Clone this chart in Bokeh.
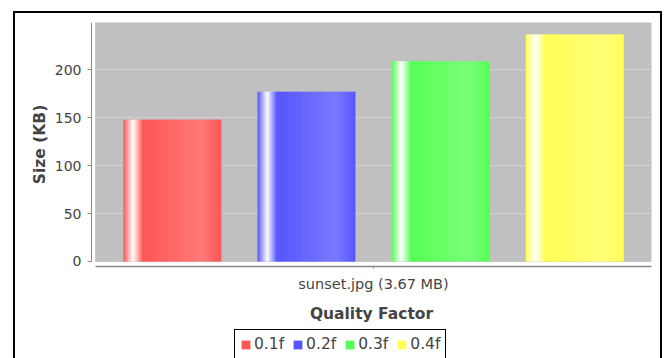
from bokeh.plotting import figure
from bokeh.layouts import column
from bokeh.models import (Range1d, FixedTicker, BoxAnnotation, Legend, LegendItem,
                          ColumnDataSource)
from bokeh.embed import file_html
from bokeh.resources import INLINE

# --- data ---------------------------------------------------------------
categories = ["sunset.jpg (3.67 MB)"]
series = ["0.1f", "0.2f", "0.3f", "0.4f"]
sizes_kb = [148, 177, 209, 237]
series_colors = [(255, 85, 85), (85, 85, 255), (85, 255, 85), (255, 255, 85)]
y_ticks = [0, 50, 100, 150, 200]

# --- layout constants ---------------------------------------------------
# the chart sits inside a black frame whose lower edge runs below the page
OFF_X, OFF_Y, BORDER = 13, 11, 2
X0, Y0 = OFF_X + 2 * BORDER, OFF_Y + 2 * BORDER   # origin of the canvas
W = 660 - OFF_X - BORDER
H_CHART = 326 - OFF_Y - BORDER
H_LEGEND = 358 - 326
FRAME_L, FRAME_R, FRAME_T, FRAME_B = 93, 649, 24, 266
Y_MAX = 249.4
FONT = "DejaVu Sans"
TEXT = "#444444"
AXIS = "#888888"
SIDE = "2px solid black"

p = figure(width=W, height=H_CHART, output_backend="svg", toolbar_location=None,
           x_range=Range1d(-0.00725, 1.0), y_range=Range1d(-5.26, Y_MAX),
           min_border_left=FRAME_L - X0,
           min_border_right=W - (FRAME_R - X0),
           min_border_top=FRAME_T - Y0,
           min_border_bottom=H_CHART - (FRAME_B - Y0),
           margin=(OFF_Y, 0, 0, OFF_X),
           styles={"border-top": SIDE, "border-left": SIDE,
                   "border-right": SIDE, "box-sizing": "content-box"})
p.background_fill_color = "white"
p.border_fill_color = "white"
p.outline_line_color = None

# grey plot area, slightly detached from the axes
p.add_layout(BoxAnnotation(left=0, right=1, bottom=0, top=Y_MAX,
                           fill_color="#C0C0C0", fill_alpha=1.0,
                           line_color="#8a8a8a", line_width=1, level="image"))


def hex_of(c):
    return "#%02x%02x%02x" % tuple(int(round(v)) for v in c)


def brighter(c):
    return tuple(min(int(v / 0.7), 255) for v in c)


def mix(a, b, t):
    return tuple(a[k] + (b[k] - a[k]) * t for k in range(3))


def bar_shade(c0, t):
    """Horizontal gradient across a bar: highlight stripe near the left edge."""
    white = (255, 255, 255)
    c1 = brighter(c0)
    if t < 0.10:
        return mix(c0, white, t / 0.10)
    if t < 0.20:
        return mix(white, c0, (t - 0.10) / 0.10)
    if t < 0.80:
        return mix(c0, c1, (t - 0.20) / 0.60)
    return mix(c1, c0, (t - 0.80) / 0.20)


# bar geometry inside the single category slot [0, 1]
margin = 0.05
gap = 0.065
n = len(series)
bw = (1 - 2 * margin - (n - 1) * gap) / n
N_STRIPS = 90

for i, (name, val, col) in enumerate(zip(series, sizes_kb, series_colors)):
    left = margin + i * (bw + gap)
    step = bw / N_STRIPS
    lefts, rights, tops, bottoms, colors = [], [], [], [], []
    for j in range(N_STRIPS):
        t = (j + 0.5) / N_STRIPS
        lefts.append(left + j * step)
        rights.append(min(left + (j + 1.6) * step, left + bw))
        tops.append(val)
        bottoms.append(0)
        colors.append(hex_of(bar_shade(col, t)))
    src = ColumnDataSource(dict(left=lefts, right=rights, top=tops,
                                bottom=bottoms, color=colors))
    p.quad(left="left", right="right", top="top", bottom="bottom",
           fill_color="color", line_color=None, source=src)

# grid
p.xgrid.visible = False
p.ygrid.ticker = FixedTicker(ticks=y_ticks[1:])
p.ygrid.grid_line_color = "#e4e4e4"
p.ygrid.grid_line_dash = "2 2"
p.ygrid.grid_line_width = 1

# y axis
ya = p.yaxis[0]
ya.ticker = FixedTicker(ticks=y_ticks)
ya.bounds = (0, Y_MAX)
ya.axis_line_color = AXIS
ya.major_tick_line_color = AXIS
ya.major_tick_in = 0
ya.major_tick_out = 4
ya.minor_tick_line_color = None
ya.major_label_text_font = FONT
ya.major_label_text_font_size = "14px"
ya.major_label_text_color = TEXT
ya.major_label_standoff = 6
ya.axis_label = "Size (KB)"
ya.axis_label_text_font = FONT
ya.axis_label_text_font_style = "bold"
ya.axis_label_text_font_size = "15.5px"
ya.axis_label_text_color = TEXT
ya.axis_label_standoff = 3

# x axis
xa = p.xaxis[0]
xa.ticker = FixedTicker(ticks=[0.5])
xa.major_label_overrides = {0.5: categories[0]}
xa.bounds = (0, 1)
xa.axis_line_color = AXIS
xa.axis_line_width = 1.5
xa.major_tick_line_color = AXIS
xa.major_tick_in = 0
xa.major_tick_out = 2
xa.minor_tick_line_color = None
xa.major_label_text_font = FONT
xa.major_label_text_font_size = "14.5px"
xa.major_label_text_color = TEXT
xa.major_label_standoff = 7
xa.axis_label = "Quality Factor"
xa.axis_label_text_font = FONT
xa.axis_label_text_font_style = "bold"
xa.axis_label_text_font_size = "15.5px"
xa.axis_label_text_color = TEXT
xa.axis_label_standoff = 10

# --- legend strip under the chart -------------------------------------
lg = figure(width=W, height=H_LEGEND, output_backend="svg",
            toolbar_location=None, x_axis_location=None, y_axis_location=None,
            x_range=Range1d(0, 1), y_range=Range1d(0, 1),
            min_border_left=0, min_border_right=0, min_border_top=0,
            min_border_bottom=0, margin=(0, 0, 0, OFF_X),
            styles={"border-left": SIDE, "border-right": SIDE,
                    "box-sizing": "content-box"})
lg.background_fill_color = "white"
lg.border_fill_color = "white"
lg.outline_line_color = None
lg.grid.visible = False

items = []
for name, col in zip(series, series_colors):
    # swatch renderer kept outside the visible range; only its legend glyph shows
    sw = lg.quad(left=[-3], right=[-2], top=[-2], bottom=[-3],
                 fill_color=hex_of(col), line_color=None)
    items.append(LegendItem(label=name, renderers=[sw]))

# the legend frame is aligned with the chart frame by the column layout
legend = Legend(items=items, orientation="horizontal",
                location=(236 - FRAME_L, -1), border_line_color="black",
                border_line_width=1, border_line_alpha=1.0,
                background_fill_color="white", background_fill_alpha=1.0,
                glyph_width=11, glyph_height=11, label_standoff=3, spacing=8,
                padding=5, margin=0, label_text_font=FONT,
                label_text_font_size="15.5px", label_text_color=TEXT)
lg.add_layout(legend, "center")

page = column(p, lg, spacing=0)
open("out.html", "w").write(file_html(page, INLINE))
